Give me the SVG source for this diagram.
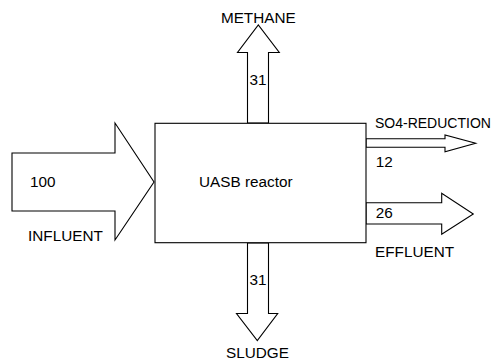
<svg xmlns="http://www.w3.org/2000/svg" width="499" height="360" viewBox="0 0 499 360">
<style>
.s{fill:#fff;stroke:#000;stroke-width:1.1}
.t{font-family:"Liberation Sans",Arial,sans-serif;font-size:15.3px;fill:#000}
</style>
<rect width="499" height="360" fill="#fff"/>
<g id="connectors">
<g id="influent-arrow"><polygon class="s" points="12,153 115,153 115,123 154,182 115,240 115,211 12,211"/></g>
<g id="methane-arrow"><polygon class="s" points="247.5,123 247.5,52.5 237.5,52.5 258.3,25 279.3,52.5 268.5,52.5 268.5,123"/></g>
<g id="sludge-arrow"><polygon class="s" points="247.5,243 247.5,313.5 236.5,313.5 257.3,340.7 277.7,313.5 268.5,313.5 268.5,243"/></g>
<g id="so4-arrow"><polygon class="s" points="366,138.7 445,138.7 445,135 475.7,143.3 445,151.7 445,147.3 366,147.3"/></g>
<g id="effluent-arrow"><polygon class="s" points="366,202.7 441.7,202.7 441.7,193.3 473.3,214 441.7,234.3 441.7,224 366,224"/></g>
</g>
<g id="reactor">
<rect class="s" x="155" y="123.3" width="211" height="119.4"/>
<text class="t" x="199" y="187">UASB reactor</text>
</g>
<g id="labels">
<text class="t" x="30" y="187">100</text>
<text class="t" x="28" y="241">INFLUENT</text>
<text class="t" x="258.3" y="23.3" text-anchor="middle">METHANE</text>
<text class="t" x="249.5" y="84.5">31</text>
<text class="t" x="249.5" y="285">31</text>
<text class="t" x="257.5" y="358.3" text-anchor="middle">SLUDGE</text>
<text class="t" x="375" y="127.7" style="font-size:14px">SO4-REDUCTION</text>
<text class="t" x="375.7" y="167">12</text>
<text class="t" x="375.7" y="218.3">26</text>
<text class="t" x="375" y="256.7">EFFLUENT</text>
</g>
</svg>
